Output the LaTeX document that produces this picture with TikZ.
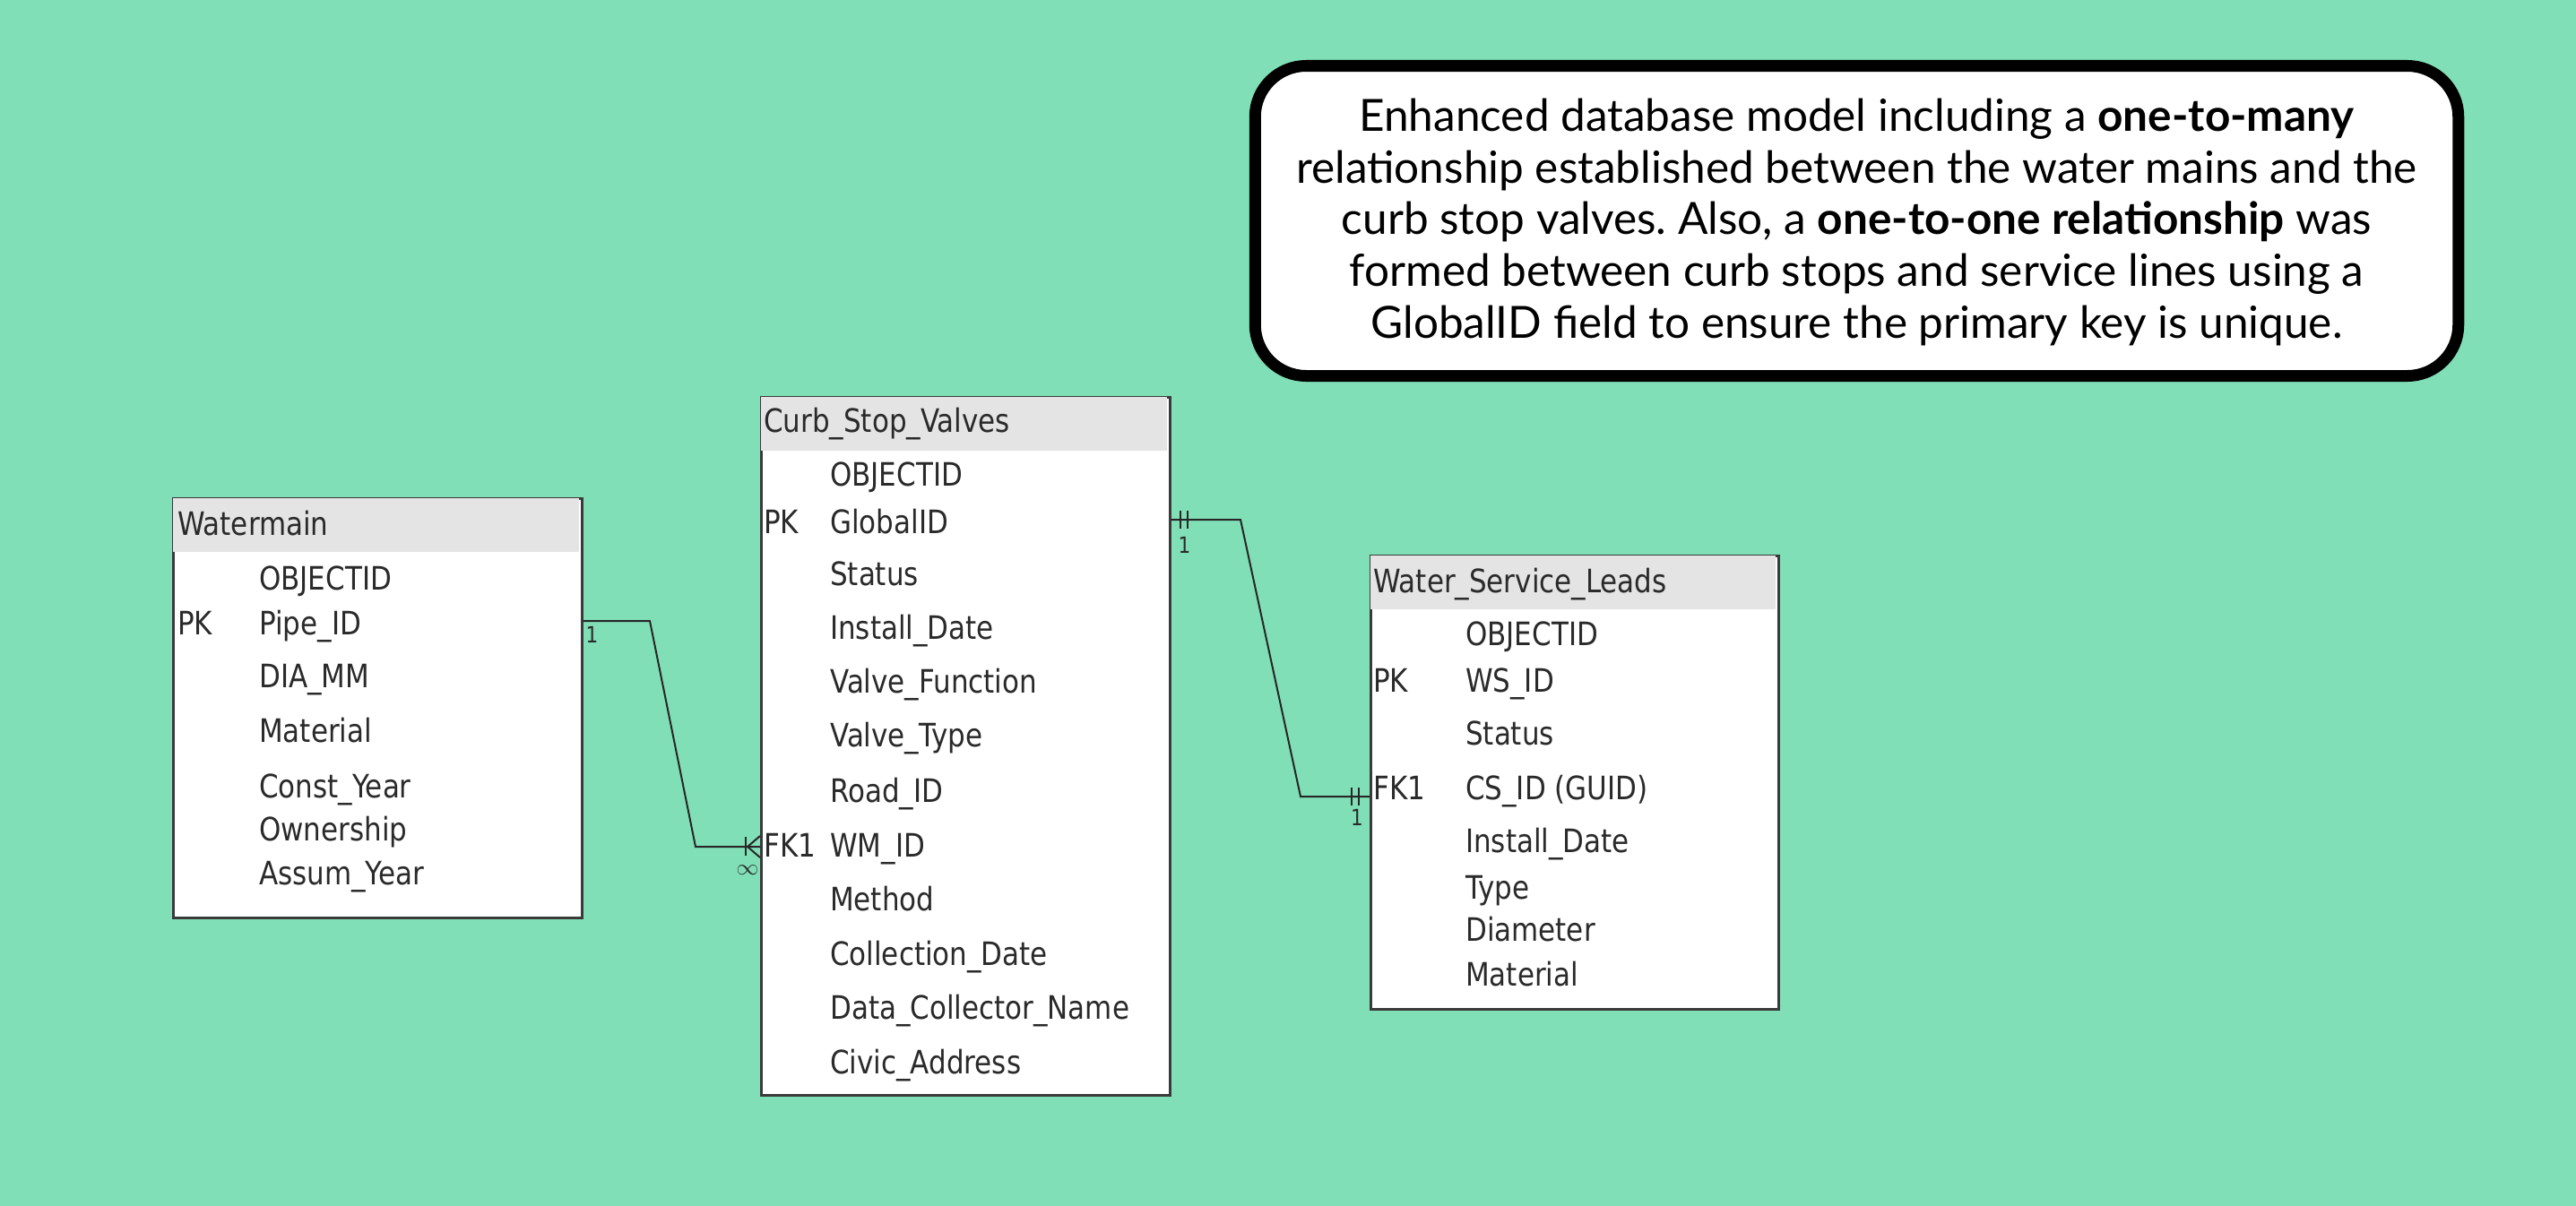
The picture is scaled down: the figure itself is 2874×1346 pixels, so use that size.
\documentclass[tikz,border=0pt]{standalone}
\usepackage{fontspec}
\newfontfamily\tabfont[FakeStretch=0.86]{DejaVu Sans}
\newfontfamily\callfont{Lato}
\usetikzlibrary{calc}
\definecolor{bggreen}{HTML}{80DFB7}
\definecolor{headgray}{HTML}{E4E4E4}
\definecolor{tabline}{HTML}{3A3A3A}
\definecolor{tabtext}{HTML}{2A2A2A}
\frenchspacing
\tikzset{
  tablebox/.style={draw=tabline, line width=2.5pt, fill=white, anchor=north west, inner sep=0pt},
  headband/.style={fill=headgray, anchor=north west, inner sep=0pt, minimum height=60pt},
  fld/.style={anchor=mid west, inner sep=0pt, yshift=-8pt, text=tabtext, font=\tabfont\fontsize{36}{36}\selectfont},
  card/.style={anchor=mid, inner sep=0pt, text=tabtext, font=\tabfont\fontsize{25}{25}\selectfont},
  conn/.style={draw=black!85, line width=2pt},
  notebox/.style={draw=black, line width=13pt, rounded corners=57pt, fill=white, inner sep=0pt},
  notetext/.style={align=center, inner sep=0pt, font=\callfont\fontsize{49.5}{57.75}\selectfont}
}
\begin{document}
\begin{tikzpicture}[x=1pt,y=-1pt]
\fill[bggreen] (0,0) rectangle (2874,1346);
\useasboundingbox (0,0) rectangle (2874,1346);

% ---------- callout ----------
\node[notebox, minimum width=1342.5pt, minimum height=346pt] (note) at (2071.5,246.5) {};
\node[notetext] (notet) at (2071.5,248) {Enhanced database model including a \textbf{one-to-many}\\
relationship established between the water mains and the\\
curb stop valves. Also, a \textbf{one-to-one relationship} was\\
formed between curb stops and service lines using a\\
GlobalID field to ensure the primary key is unique.};

% ---------- Watermain ----------
\node[tablebox, minimum width=456pt, minimum height=468pt] (W) at (192,555) {};
\node[headband, minimum width=453pt] (Wh) at ($(W.north west)+(1.25,1.25)$) {};
\node[fld] (Wt) at (198,587) {Watermain};
\node[fld] (W1) at (289,648) {OBJECTID};
\node[fld] (Wk2) at (198,698) {PK};
\node[fld] (W2) at (289,698) {Pipe\_ID};
\node[fld] (W3) at (289,757) {DIA\_MM};
\node[fld] (W4) at (289,818) {Material};
\node[fld] (W5) at (289,880) {Const\_Year};
\node[fld] (W6) at (289,928) {Ownership};
\node[fld] (W7) at (289,977) {Assum\_Year};

% ---------- Curb_Stop_Valves ----------
\node[tablebox, minimum width=456pt, minimum height=779pt] (C) at (848,442) {};
\node[headband, minimum width=453pt] (Ch) at ($(C.north west)+(1.25,1.25)$) {};
\node[fld] (Ct) at (852,472) {Curb\_Stop\_Valves};
\node[fld] (C1) at (926,532) {OBJECTID};
\node[fld] (Ck2) at (852,585) {PK};
\node[fld] (C2) at (926,585) {GlobalID};
\node[fld] (C3) at (926,643) {Status};
\node[fld] (C4) at (926,703) {Install\_Date};
\node[fld] (C5) at (926,763) {Valve\_Function};
\node[fld] (C6) at (926,823) {Valve\_Type};
\node[fld] (C7) at (926,885) {Road\_ID};
\node[fld] (Ck8) at (852,946) {FK1};
\node[fld] (C8) at (926,946) {WM\_ID};
\node[fld] (C9) at (926,1006) {Method};
\node[fld] (C10) at (926,1067) {Collection\_Date};
\node[fld] (C11) at (926,1127) {Data\_Collector\_Name};
\node[fld] (C12) at (926,1188) {Civic\_Address};

% ---------- Water_Service_Leads ----------
\node[tablebox, minimum width=455pt, minimum height=506pt] (S) at (1528,619) {};
\node[headband, minimum width=452pt] (Sh) at ($(S.north west)+(1.25,1.25)$) {};
\node[fld] (St) at (1532,651) {Water\_Service\_Leads};
\node[fld] (S1) at (1635,710) {OBJECTID};
\node[fld] (Sk2) at (1532,762) {PK};
\node[fld] (S2) at (1635,762) {WS\_ID};
\node[fld] (S3) at (1635,821) {Status};
\node[fld] (Sk4) at (1532,882) {FK1};
\node[fld] (S4) at (1635,882) {CS\_ID (GUID)};
\node[fld] (S5) at (1635,941) {Install\_Date};
\node[fld] (S6) at (1635,993) {Type};
\node[fld] (S7) at (1635,1040) {Diameter};
\node[fld] (S8) at (1635,1090) {Material};

% ---------- connector Watermain -> Curb_Stop_Valves (one-to-many) ----------
\coordinate (wa) at (W.east |- 0,693);
\coordinate (wb) at (C.west |- 0,945);
\draw[conn] (wa) -- (725,693) -- (776,945) -- (wb);
\draw[conn] ($(wb)+(-16,-11)$) -- ($(wb)+(-16,10)$);
\draw[conn] ($(wb)+(-14,0)$) -- ($(wb)+(0,-12)$);
\draw[conn] ($(wb)+(-14,0)$) -- ($(wb)+(0,12)$);
\node[card] (w1lab) at ($(wa)+(10,22)$) {1};
\node[card, font=\tabfont\fontsize{28}{28}\selectfont] (wmlab) at ($(wb)+(-14,29)$) {$\infty$};

% ---------- connector Curb_Stop_Valves -> Water_Service_Leads (one-to-one) ----------
\coordinate (ca) at (C.east |- 0,580);
\coordinate (sb) at (S.west |- 0,889);
\draw[conn] (ca) -- (1384,580) -- (1451,889) -- (sb);
\draw[conn] ($(ca)+(10,-10)$) -- ($(ca)+(10,10)$);
\draw[conn] ($(ca)+(18,-10)$) -- ($(ca)+(18,10)$);
\draw[conn] ($(sb)+(-20,-10)$) -- ($(sb)+(-20,10)$);
\draw[conn] ($(sb)+(-12,-10)$) -- ($(sb)+(-12,10)$);
\node[card] (c1lab) at ($(ca)+(15,35)$) {1};
\node[card] (s1lab) at ($(sb)+(-14,30)$) {1};
\end{tikzpicture}
\end{document}
